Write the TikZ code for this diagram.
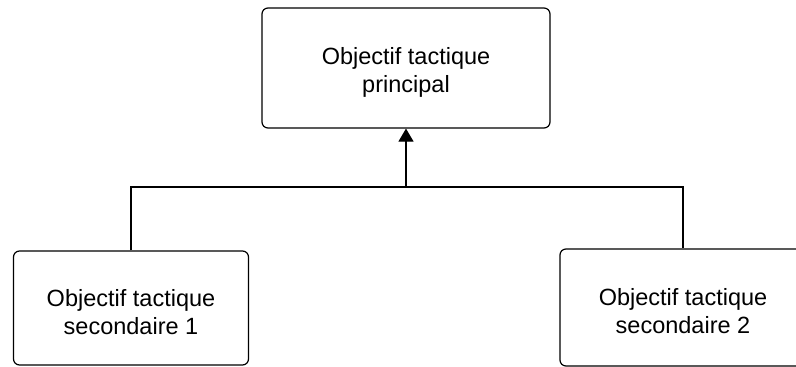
\documentclass[tikz,border=0pt]{standalone}
\usepackage{fontspec}
\setmainfont{Liberation Sans}
\usetikzlibrary{arrows.meta}
% extra height on the first line lowers the text block a little
\newcommand{\firstline}{\rule{0pt}{25pt}}
\begin{document}
\begin{tikzpicture}[x=1pt,y=-1pt,
  goal/.style={draw, rounded corners=6pt, line width=1.2pt, align=center,
    font=\fontsize{23.5}{28}\selectfont, inner sep=0pt},
  link/.style={line width=1.2pt}]
\useasboundingbox (0,0) rectangle (796,367);
\clip (0,0) rectangle (796,367);
% objectives
\node[goal, minimum width=288pt, minimum height=120pt] (main) at (406,68) {\firstline Objectif tactique\\principal};
\node[goal, minimum width=235pt, minimum height=114pt] (sub1) at (131,308) {\firstline Objectif tactique\\secondaire 1};
\node[goal, minimum width=246pt, minimum height=117pt] (sub2) at (683,307.5) {\firstline Objectif tactique\\secondaire 2};
% tree connector
\coordinate (j) at (406,187);
\draw[link] (sub1.north) -- (sub1.north |- j) -- (sub2.north |- j) -- (sub2.north);
\draw[link, -{Triangle[length=13pt,width=15pt]}] (j) -- (main.south);
\end{tikzpicture}
\end{document}
